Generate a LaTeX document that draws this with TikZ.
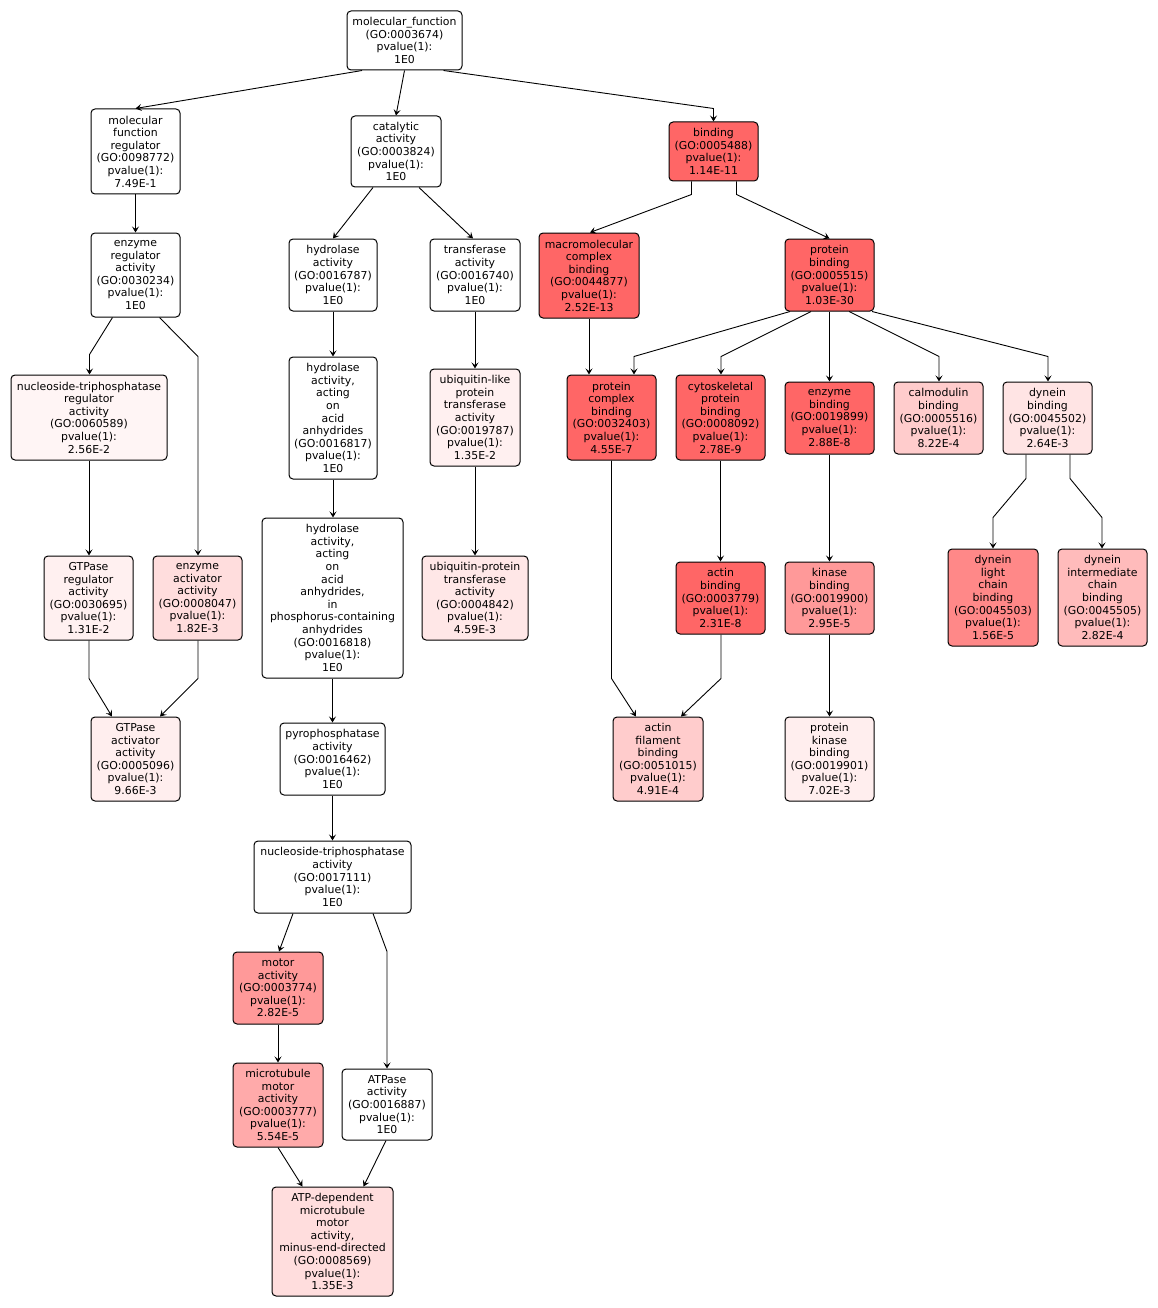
\documentclass[tikz,border=0pt]{standalone}
\usepackage{fontspec}
\setmainfont{DejaVu Sans}
\usetikzlibrary{arrows.meta}
\definecolor{cA}{HTML}{FF6666}
\definecolor{cB}{HTML}{FF8888}
\definecolor{cC}{HTML}{FF9999}
\definecolor{cD}{HTML}{FFAAAA}
\definecolor{cE}{HTML}{FFBBBB}
\definecolor{cF}{HTML}{FFCCCC}
\definecolor{cG}{HTML}{FFDDDD}
\definecolor{cH}{HTML}{FFE4E4}
\definecolor{cI}{HTML}{FFE7E7}
\definecolor{cJ}{HTML}{FFEEEE}
\definecolor{cK}{HTML}{FFF0F0}
\definecolor{cL}{HTML}{FFF5F5}
\tikzset{
  term/.style={draw=black, line width=1pt, rounded corners=4pt, fill=white,
    align=center, inner sep=0pt,
    font=\fontsize{10.9}{12.6}\selectfont},
  edge/.style={draw=black, line width=0.9pt, -{Stealth[length=6pt,width=7pt,inset=2.5pt]}},
}
\newcommand{\term}[6]{\node[term, fill=#6, minimum width=#4, minimum height=#5] (#1) at (#2) {#3};}
\begin{document}
\begin{tikzpicture}[x=1pt,y=-1pt]
\useasboundingbox (0,0) rectangle (1157,1308);
\fill[white] (0,0) rectangle (1157,1308);
% nodes
\term{mf}{404.5,40.5}{molecular\_function\\(GO:0003674)\\pvalue(1):\\1E0}{115pt}{59pt}{white}
\term{mfr}{135.5,151.5}{molecular\\function\\regulator\\(GO:0098772)\\pvalue(1):\\7.49E-1}{89pt}{85pt}{white}
\term{cat}{396,151.5}{catalytic\\activity\\(GO:0003824)\\pvalue(1):\\1E0}{90pt}{71pt}{white}
\term{bind}{713.5,151.5}{binding\\(GO:0005488)\\pvalue(1):\\1.14E-11}{89pt}{59pt}{cA}
\term{er}{135.5,275}{enzyme\\regulator\\activity\\(GO:0030234)\\pvalue(1):\\1E0}{89pt}{84pt}{white}
\term{hyd}{333,275}{hydrolase\\activity\\(GO:0016787)\\pvalue(1):\\1E0}{88pt}{72pt}{white}
\term{trans}{475,275}{transferase\\activity\\(GO:0016740)\\pvalue(1):\\1E0}{90pt}{72pt}{white}
\term{mcb}{589,275.5}{macromolecular\\complex\\binding\\(GO:0044877)\\pvalue(1):\\2.52E-13}{100pt}{85pt}{cA}
\term{pb}{829.5,275}{protein\\binding\\(GO:0005515)\\pvalue(1):\\1.03E-30}{89pt}{72pt}{cA}
\term{ntpr}{89,417.5}{nucleoside-triphosphatase\\regulator\\activity\\(GO:0060589)\\pvalue(1):\\2.56E-2}{156pt}{85pt}{cL}
\term{hydb}{333,418}{hydrolase\\activity,\\acting\\on\\acid\\anhydrides\\(GO:0016817)\\pvalue(1):\\1E0}{88pt}{122pt}{white}
\term{ubl}{475,417.5}{ubiquitin-like\\protein\\transferase\\activity\\(GO:0019787)\\pvalue(1):\\1.35E-2}{90pt}{97pt}{cK}
\term{pcb}{611.5,417.5}{protein\\complex\\binding\\(GO:0032403)\\pvalue(1):\\4.55E-7}{89pt}{85pt}{cA}
\term{cyto}{720.5,417.5}{cytoskeletal\\protein\\binding\\(GO:0008092)\\pvalue(1):\\2.78E-9}{89pt}{85pt}{cA}
\term{enzb}{829.5,418}{enzyme\\binding\\(GO:0019899)\\pvalue(1):\\2.88E-8}{89pt}{72pt}{cA}
\term{calm}{938.5,418}{calmodulin\\binding\\(GO:0005516)\\pvalue(1):\\8.22E-4}{89pt}{72pt}{cF}
\term{dyn}{1047.5,418}{dynein\\binding\\(GO:0045502)\\pvalue(1):\\2.64E-3}{89pt}{72pt}{cH}
\term{hydc}{332.5,598}{hydrolase\\activity,\\acting\\on\\acid\\anhydrides,\\in\\phosphorus-containing\\anhydrides\\(GO:0016818)\\pvalue(1):\\1E0}{141pt}{160pt}{white}
\term{gtpr}{88.5,598}{GTPase\\regulator\\activity\\(GO:0030695)\\pvalue(1):\\1.31E-2}{89pt}{84pt}{cK}
\term{enza}{197.5,598}{enzyme\\activator\\activity\\(GO:0008047)\\pvalue(1):\\1.82E-3}{89pt}{84pt}{cG}
\term{ubp}{475,598}{ubiquitin-protein\\transferase\\activity\\(GO:0004842)\\pvalue(1):\\4.59E-3}{106pt}{84pt}{cI}
\term{actb}{720.5,598}{actin\\binding\\(GO:0003779)\\pvalue(1):\\2.31E-8}{89pt}{72pt}{cA}
\term{kinb}{829.5,598}{kinase\\binding\\(GO:0019900)\\pvalue(1):\\2.95E-5}{89pt}{72pt}{cC}
\term{dlc}{993,597.5}{dynein\\light\\chain\\binding\\(GO:0045503)\\pvalue(1):\\1.56E-5}{90pt}{97pt}{cB}
\term{dic}{1102.5,597.5}{dynein\\intermediate\\chain\\binding\\(GO:0045505)\\pvalue(1):\\2.82E-4}{89pt}{97pt}{cE}
\term{gtpa}{135.5,759}{GTPase\\activator\\activity\\(GO:0005096)\\pvalue(1):\\9.66E-3}{89pt}{84pt}{cJ}
\term{pyro}{332.5,759}{pyrophosphatase\\activity\\(GO:0016462)\\pvalue(1):\\1E0}{105pt}{72pt}{white}
\term{afb}{658,759}{actin\\filament\\binding\\(GO:0051015)\\pvalue(1):\\4.91E-4}{90pt}{84pt}{cF}
\term{pkb}{829.5,759}{protein\\kinase\\binding\\(GO:0019901)\\pvalue(1):\\7.02E-3}{89pt}{84pt}{cJ}
\term{ntp}{332.5,877}{nucleoside-triphosphatase\\activity\\(GO:0017111)\\pvalue(1):\\1E0}{157pt}{72pt}{white}
\term{mot}{278,988}{motor\\activity\\(GO:0003774)\\pvalue(1):\\2.82E-5}{90pt}{72pt}{cC}
\term{mtm}{278,1105}{microtubule\\motor\\activity\\(GO:0003777)\\pvalue(1):\\5.54E-5}{90pt}{84pt}{cD}
\term{atpase}{387,1104.5}{ATPase\\activity\\(GO:0016887)\\pvalue(1):\\1E0}{90pt}{71pt}{white}
\term{atpd}{332.5,1241.5}{ATP-dependent\\microtubule\\motor\\activity,\\minus-end-directed\\(GO:0008569)\\pvalue(1):\\1.35E-3}{121pt}{109pt}{cG}
% edges
\draw[edge] ([xshift=-42.5pt]mf.south) -- (mfr.north);
\draw[edge] (mf.south) -- (cat.north);
\draw[edge] ([xshift=39pt]mf.south) -- ([yshift=13pt]bind.north) -- (bind.north);
\draw[edge] (mfr.south) -- (er.north);
\draw[edge] ([xshift=-23pt]er.south) -- ([xshift=0.5pt,yshift=20pt]ntpr.north) -- ([xshift=0.5pt]ntpr.north);
\draw[edge] ([xshift=24pt]er.south) -- ([xshift=0.5pt,yshift=199pt]enza.north) -- ([xshift=0.5pt]enza.north);
\draw[edge] (ntpr.south) -- (ntpr.south |- gtpr.north);
\draw[edge] ([xshift=0.5pt]gtpr.south) -- ([xshift=0.5pt,yshift=-38pt]gtpr.south) -- ([xshift=-23.5pt]gtpa.north);
\draw[edge] ([xshift=0.5pt]enza.south) -- ([xshift=0.5pt,yshift=-38pt]enza.south) -- ([xshift=24.5pt]gtpa.north);
\draw[edge] ([xshift=-23pt]cat.south) -- (hyd.north);
\draw[edge] ([xshift=23pt]cat.south) -- ([xshift=-2pt]trans.north);
\draw[edge] (hyd.south) -- (hydb.north);
\draw[edge] (trans.south) -- (ubl.north);
\draw[edge] (ubl.south) -- (ubp.north);
\draw[edge] (hydb.south) -- (hydb.south |- hydc.north);
\draw[edge] (hydc.south) -- (hydc.south |- pyro.north);
\draw[edge] (pyro.south) -- (ntp.north);
\draw[edge] ([xshift=-39.5pt]ntp.south) -- ([xshift=1pt]mot.north);
\draw[edge] ([xshift=40.5pt]ntp.south) -- ([yshift=117pt]atpase.north) -- (atpase.north);
\draw[edge] (mot.south) -- (mtm.north);
\draw[edge] (mtm.south) -- ([xshift=-30pt]atpd.north);
\draw[edge] ([xshift=-1pt]atpase.south) -- ([xshift=31pt]atpd.north);
\draw[edge] ([xshift=-22pt]bind.south) -- ([xshift=-22pt,yshift=-13pt]bind.south) -- ([xshift=1pt]mcb.north);
\draw[edge] ([xshift=23pt]bind.south) -- ([xshift=23pt,yshift=-13pt]bind.south) -- (pb.north);
\draw[edge] (mcb.south) -- (mcb.south |- pcb.north);
\draw[edge] ([xshift=-39.5pt]pb.south) -- ([xshift=22.5pt,yshift=18pt]pcb.north) -- ([xshift=22.5pt]pcb.north);
\draw[edge] ([xshift=-18.5pt]pb.south) -- ([xshift=0.5pt,yshift=18pt]cyto.north) -- ([xshift=0.5pt]cyto.north);
\draw[edge] (pb.south) -- (enzb.north);
\draw[edge] ([xshift=19.5pt]pb.south) -- ([xshift=0.5pt,yshift=25pt]calm.north) -- ([xshift=0.5pt]calm.north);
\draw[edge] ([xshift=42.5pt]pb.south) -- ([xshift=0.5pt,yshift=25pt]dyn.north) -- ([xshift=0.5pt]dyn.north);
\draw[edge] (pcb.south) -- ([yshift=-218pt]pcb.south) -- ([xshift=-22pt]afb.north);
\draw[edge] (cyto.south) -- (actb.north);
\draw[edge] ([xshift=0.5pt]actb.south) -- ([xshift=0.5pt,yshift=-44pt]actb.south) -- ([xshift=23pt]afb.north);
\draw[edge] (enzb.south) -- (kinb.north);
\draw[edge] (kinb.south) -- (pkb.north);
\draw[edge] ([xshift=-21.5pt]dyn.south) -- ([xshift=-21.5pt,yshift=-24pt]dyn.south) -- ([yshift=31pt]dlc.north) -- (dlc.north);
\draw[edge] ([xshift=22.5pt]dyn.south) -- ([xshift=22.5pt,yshift=-24pt]dyn.south) -- ([xshift=-0.5pt,yshift=31pt]dic.north) -- ([xshift=-0.5pt]dic.north);
\end{tikzpicture}
\end{document}
